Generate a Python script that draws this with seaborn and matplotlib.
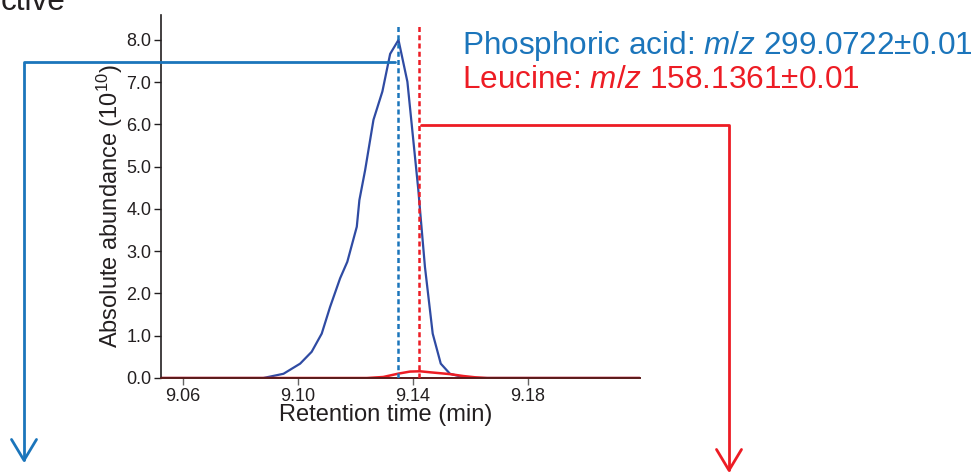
import pandas as pd
import matplotlib.pyplot as plt
import seaborn as sns
from matplotlib.patches import FancyArrowPatch, ArrowStyle
from matplotlib.path import Path

# Extracted ion chromatograms (abundance in 1e10)
pa_time = [9.0525, 9.0800, 9.0881, 9.0951, 9.1009, 9.1049, 9.1084, 9.1113, 9.1148,
           9.1173, 9.1206, 9.1215, 9.1235, 9.1264, 9.1295, 9.1322, 9.1351, 9.1382,
           9.1420, 9.1426, 9.1443, 9.1470, 9.1498, 9.1530, 9.1576, 9.1620, 9.2190]
pa_abund = [0.0, 0.0, 0.0, 0.10, 0.34, 0.62, 1.05, 1.68, 2.36,
            2.75, 3.58, 4.21, 4.92, 6.11, 6.78, 7.67, 8.00, 7.01,
            4.45, 3.97, 2.63, 1.05, 0.34, 0.10, 0.02, 0.0, 0.0]

leu_time = [9.0525, 9.1241, 9.1298, 9.1351, 9.1391, 9.1426, 9.1461, 9.1530,
            9.1576, 9.1617, 9.1659, 9.2190]
leu_abund = [0.0, 0.0, 0.024, 0.104, 0.152, 0.159, 0.135, 0.092,
             0.047, 0.017, 0.0, 0.0]

pa_rt = 9.1351
leu_rt = 9.1421

xticks = [9.06, 9.10, 9.14, 9.18]
yticks = [0.0, 1.0, 2.0, 3.0, 4.0, 5.0, 6.0, 7.0, 8.0]

pa_label = "Phosphoric acid: $\\mathit{m/z}$ 299.0722\u00b10.01"
leu_label = "Leucine: $\\mathit{m/z}$ 158.1361\u00b10.01"

BLUE = "#1b75bb"
NAVY = "#2f4ba3"
RED = "#ed1c24"
DARK = "#231f20"

sns.set_style("ticks")
plt.rcParams["font.family"] = ["Liberation Sans", "DejaVu Sans"]
plt.rcParams["mathtext.fontset"] = "custom"
plt.rcParams["mathtext.rm"] = "Liberation Sans"
plt.rcParams["mathtext.it"] = "Liberation Sans:italic"

W, H = 980, 474
fig = plt.figure(figsize=(W / 100, H / 100), dpi=100)
ax = fig.add_axes([161 / W, 1 - 378 / H, (640 - 161) / W, (378 - 15) / H])

pa = pd.DataFrame({"time": pa_time, "abund": pa_abund})
leu = pd.DataFrame({"time": leu_time, "abund": leu_abund})

sns.lineplot(data=pa, x="time", y="abund", ax=ax, color=NAVY, lw=1.6, zorder=2)
sns.lineplot(data=leu, x="time", y="abund", ax=ax, color=RED, lw=1.8, zorder=2)

ax.vlines(pa_rt, 0, 8.36, color=BLUE, lw=1.8, linestyles=(0, (2.0, 1.3)), zorder=3)
ax.vlines(leu_rt, 0, 8.36, color=RED, lw=1.8, linestyles=(0, (2.0, 1.3)), zorder=3)

ax.set_xlim(9.0525, 9.2191)
ax.set_ylim(0, 8.59)
ax.set_xticks(xticks)
ax.set_xticklabels([f"{t:.2f}" for t in xticks])
ax.set_yticks(yticks)
ax.set_yticklabels([f"{t:.1f}" for t in yticks])

sns.despine(ax=ax)
ax.spines["left"].set_color(DARK)
ax.spines["bottom"].set_color("#5a1a1a")
ax.spines["left"].set_linewidth(1.2)
ax.spines["bottom"].set_linewidth(1.4)
ax.tick_params(axis="both", labelsize=13, colors=DARK, length=5, width=1, pad=2)
ax.tick_params(axis="x", colors="#666666", labelcolor=DARK)

ax.set_xlabel("Retention time (min)", fontsize=17, color=DARK)
ax.xaxis.set_label_coords(0.47, -0.073)
ax.set_ylabel("Absolute abundance (10$^{10}$)", fontsize=17, color=DARK)
ax.yaxis.set_label_coords(-0.075, 0.475)


def fx(px):
    return px / W


def fy(py):
    return 1 - py / H


# callout arrows leaving the chart
for pts, col in [([(395, 62), (24, 62), (24, 463)], BLUE),
                 ([(421, 125), (729, 125), (729, 473)], RED)]:
    verts = [(fx(x), fy(y)) for x, y in pts]
    path = Path(verts, [Path.MOVETO, Path.LINETO, Path.LINETO])
    arr = FancyArrowPatch(path=path, arrowstyle=ArrowStyle("->", head_length=15, head_width=9),
                          mutation_scale=1, color=col, lw=2.0, transform=fig.transFigure)
    fig.add_artist(arr)

fig.text(fx(462), fy(54), pa_label, color=BLUE, fontsize=22.7, va="baseline", ha="left")
fig.text(fx(462), fy(88), leu_label, color=RED, fontsize=22.7, va="baseline", ha="left")

# title fragment cut by the crop
fig.text(fx(65), fy(10), "ctive", color=DARK, fontsize=22.7, va="baseline", ha="right")

fig.savefig("out.png", dpi=100)
